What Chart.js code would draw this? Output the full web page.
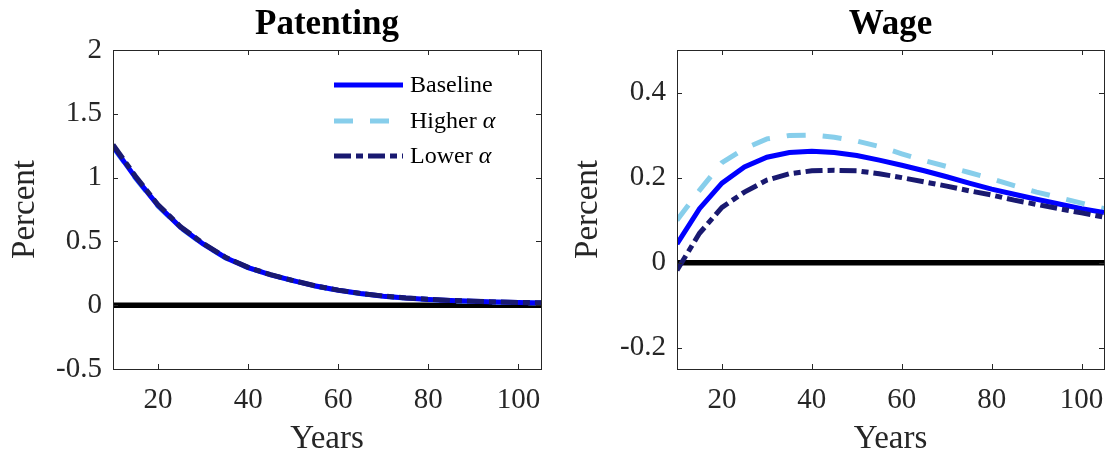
<!DOCTYPE html>
<html>
<head>
<meta charset="utf-8">
<script src="https://cdn.jsdelivr.net/npm/chart.js@4.4.0/dist/chart.umd.min.js"></script>
<style>
  body { margin: 0; background: #fff; }
  #wrap { position: relative; width: 1112px; height: 457px; }
  canvas { position: absolute; top: 0; }
</style>
</head>
<body>
<div id="wrap">
  <canvas id="patenting" width="560" height="457" style="left:0px"></canvas>
  <canvas id="wage" width="552" height="457" style="left:560px"></canvas>
</div>
<script>
// valores (anos de 5 em 5)
const years = [10, 15, 20, 25, 30, 35, 40, 45, 50, 55, 60, 65, 70, 75, 80, 85, 90, 95, 100, 105];

const patentBaseline = [1.245, 1.000, 0.780, 0.610, 0.480, 0.372, 0.295, 0.238, 0.192, 0.150, 0.117, 0.091, 0.071, 0.056, 0.045, 0.036, 0.030, 0.025, 0.021, 0.018];
const patentHigher   = [1.240, 0.995, 0.776, 0.607, 0.478, 0.370, 0.294, 0.237, 0.191, 0.149, 0.116, 0.090, 0.070, 0.055, 0.044, 0.035, 0.029, 0.024, 0.020, 0.017];
const patentLower    = [1.258, 1.010, 0.787, 0.615, 0.484, 0.375, 0.297, 0.239, 0.193, 0.151, 0.118, 0.092, 0.072, 0.057, 0.046, 0.037, 0.031, 0.026, 0.022, 0.019];

const wageBaseline = [0.044, 0.127, 0.187, 0.225, 0.248, 0.259, 0.262, 0.259, 0.252, 0.241, 0.229, 0.216, 0.202, 0.187, 0.173, 0.161, 0.149, 0.138, 0.127, 0.118];
const wageHigher   = [0.100, 0.170, 0.235, 0.268, 0.291, 0.299, 0.300, 0.295, 0.286, 0.273, 0.256, 0.240, 0.226, 0.212, 0.197, 0.181, 0.166, 0.153, 0.140, 0.127];
const wageLower    = [-0.018, 0.069, 0.130, 0.166, 0.194, 0.209, 0.216, 0.217, 0.216, 0.209, 0.200, 0.190, 0.180, 0.169, 0.159, 0.147, 0.137, 0.127, 0.117, 0.107];

const xTicks = [20, 40, 60, 80, 100];
const patentYTicks = [-0.5, 0, 0.5, 1, 1.5, 2];
const patentYLabels = ['-0.5', '0', '0.5', '1', '1.5', '2'];
const wageYTicks = [-0.2, 0, 0.2, 0.4];
const wageYLabels = ['-0.2', '0', '0.2', '0.4'];

const FONT = '"Liberation Serif", "Times New Roman", serif';
const AXIS_COLOR = '#262626';

function toPoints(values) {
    return years.map((x, i) => ({ x: x, y: values[i] }));
}

function buildDatasets(base, higher, lower) {
    // ordem: o primeiro fica por cima
    return [
        { label: 'Lower', data: toPoints(lower), borderColor: '#191970', borderWidth: 5, borderDash: [17, 5, 7, 5] },
        { label: 'Baseline', data: toPoints(base), borderColor: '#0000ff', borderWidth: 5 },
        { label: 'Higher', data: toPoints(higher), borderColor: '#87ceeb', borderWidth: 5, borderDash: [19, 17] },
        { label: 'zero', data: [{ x: years[0], y: 0 }, { x: years[years.length - 1], y: 0 }], borderColor: '#000000', borderWidth: 5.5 }
    ].map(ds => ({ ...ds, pointRadius: 0, tension: 0, fill: false, borderCapStyle: 'butt' }));
}

// caixa e marcas de escala para dentro (estilo MATLAB)
const boxPlugin = {
    id: 'boxPlugin',
    afterDatasetsDraw(chart) {
        const { ctx, chartArea: a, scales } = chart;
        const len = 5;
        ctx.save();
        ctx.strokeStyle = AXIS_COLOR;
        ctx.lineWidth = 1;
        ctx.beginPath();
        scales.x.ticks.forEach(t => {
            const px = Math.round(scales.x.getPixelForValue(t.value)) + 0.5;
            ctx.moveTo(px, a.bottom); ctx.lineTo(px, a.bottom - len);
            ctx.moveTo(px, a.top); ctx.lineTo(px, a.top + len);
        });
        scales.y.ticks.forEach(t => {
            const py = Math.round(scales.y.getPixelForValue(t.value)) + 0.5;
            ctx.moveTo(a.left, py); ctx.lineTo(a.left + len, py);
            ctx.moveTo(a.right, py); ctx.lineTo(a.right - len, py);
        });
        ctx.stroke();
        ctx.strokeRect(Math.round(a.left) + 0.5, Math.round(a.top) + 0.5,
            Math.round(a.right - a.left), Math.round(a.bottom - a.top));
        ctx.restore();
    }
};

// legenda dentro do gráfico
const legendPlugin = {
    id: 'legendPlugin',
    afterDatasetsDraw(chart) {
        const { ctx } = chart;
        const rows = [
            { ds: chart.data.datasets[1], text: 'Baseline', greek: false, y: 85 },
            { ds: chart.data.datasets[2], text: 'Higher ', greek: true, y: 121 },
            { ds: chart.data.datasets[0], text: 'Lower ', greek: true, y: 156 }
        ];
        ctx.save();
        rows.forEach(r => {
            ctx.beginPath();
            ctx.strokeStyle = r.ds.borderColor;
            ctx.lineWidth = r.ds.borderWidth;
            ctx.lineCap = 'butt';
            ctx.setLineDash(r.ds.borderDash || []);
            ctx.moveTo(334, r.y);
            ctx.lineTo(403, r.y);
            ctx.stroke();
            ctx.setLineDash([]);
            ctx.fillStyle = '#000';
            ctx.textBaseline = 'middle';
            ctx.textAlign = 'left';
            ctx.font = '24px ' + FONT;
            ctx.fillText(r.text, 410, r.y + 1);
            if (r.greek) {
                const w = ctx.measureText(r.text).width;
                ctx.font = 'italic 24px ' + FONT;
                ctx.fillText('\u03b1', 410 + w, r.y + 1);
            }
        });
        ctx.restore();
    }
};

function makeOptions(title, yMin, yMax, yTicks, yLabels, yWidth, rightPad, yTitlePad) {
    return {
        responsive: false,
        animation: false,
        devicePixelRatio: 1,
        layout: { padding: { left: 0, right: rightPad, top: 0, bottom: 0 } },
        plugins: {
            legend: { display: false },
            tooltip: { enabled: false },
            title: {
                display: true,
                text: title,
                fullSize: false,
                color: '#000',
                font: { family: FONT, size: 35, weight: 'bold', lineHeight: 1.2 },
                padding: { top: 4, bottom: 4 }
            }
        },
        scales: {
            x: {
                type: 'linear',
                min: 10,
                max: 105,
                afterBuildTicks: s => { s.ticks = xTicks.map(v => ({ value: v })); },
                afterFit: s => { s.height = 88; s.paddingLeft = 0; s.paddingRight = 0; },
                grid: { display: false, drawTicks: false },
                border: { display: false },
                ticks: { color: AXIS_COLOR, font: { family: FONT, size: 29 }, padding: 14, maxRotation: 0 },
                title: { display: true, text: 'Years', color: AXIS_COLOR, font: { family: FONT, size: 33, lineHeight: 1 }, padding: { top: 0, bottom: 1.6 } }
            },
            y: {
                min: yMin,
                max: yMax,
                afterBuildTicks: s => { s.ticks = yTicks.map(v => ({ value: v })); },
                afterFit: s => { s.width = yWidth; s.paddingTop = 0; s.paddingBottom = 0; },
                grid: { display: false, drawTicks: false },
                border: { display: false },
                ticks: {
                    color: AXIS_COLOR,
                    font: { family: FONT, size: 29 },
                    padding: 11,
                    callback: (v, i) => yLabels[i]
                },
                title: { display: true, text: 'Percent', color: AXIS_COLOR, font: { family: FONT, size: 33, lineHeight: 1 }, padding: { top: yTitlePad, bottom: 0 } }
            }
        }
    };
}

new Chart(document.getElementById('patenting'), {
    type: 'line',
    data: { datasets: buildDatasets(patentBaseline, patentHigher, patentLower) },
    options: makeOptions('Patenting', -0.5, 2, patentYTicks, patentYLabels, 113, 19, 8.4),
    plugins: [boxPlugin, legendPlugin]
});

new Chart(document.getElementById('wage'), {
    type: 'line',
    data: { datasets: buildDatasets(wageBaseline, wageHigher, wageLower) },
    options: makeOptions('Wage', -0.25, 0.5, wageYTicks, wageYLabels, 117, 8, 11.5),
    plugins: [boxPlugin]
});
</script>
</body>
</html>
